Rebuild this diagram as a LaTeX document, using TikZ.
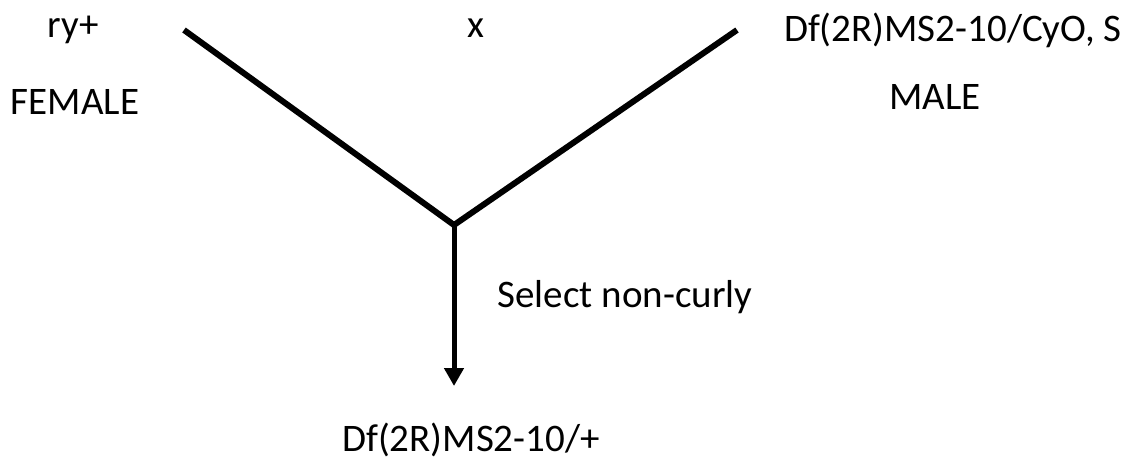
\documentclass[tikz,border=0pt]{standalone}
\usepackage{fontspec}
\setmainfont{Carlito}
\usetikzlibrary{arrows.meta}
\begin{document}
\begin{tikzpicture}[x=1pt,y=-1pt,
  lbl/.style={inner sep=0pt,font=\fontsize{39}{44}\selectfont},
  cross/.style={line width=6pt,line join=miter},
  sel/.style={line width=5pt,-{Triangle[length=18pt,width=19pt]}}]
\useasboundingbox (0,0) rectangle (1133,471);
% parents
\node[lbl] (fg) at (73,30) {ry+};
\node[lbl] (fs) at (75,102) {FEMALE};
\node[lbl] (x) at (476,28) {x};
\node[lbl] (mg) at (953,30) {Df(2R)MS2-10/CyO, S};
\node[lbl] (ms) at (935,97) {MALE};
% cross lines
\coordinate (L) at (184,30);
\coordinate (R) at (737,30);
\coordinate (J) at (454,225);
\coordinate (T) at (454,386);
\draw[cross] (L) -- (J) -- (R);
\draw[sel] (J) -- (T);
\node[lbl] (sl) at (625,297) {Select non-curly};
\node[lbl] (off) at (471,440) {Df(2R)MS2-10/+};
\end{tikzpicture}
\end{document}
